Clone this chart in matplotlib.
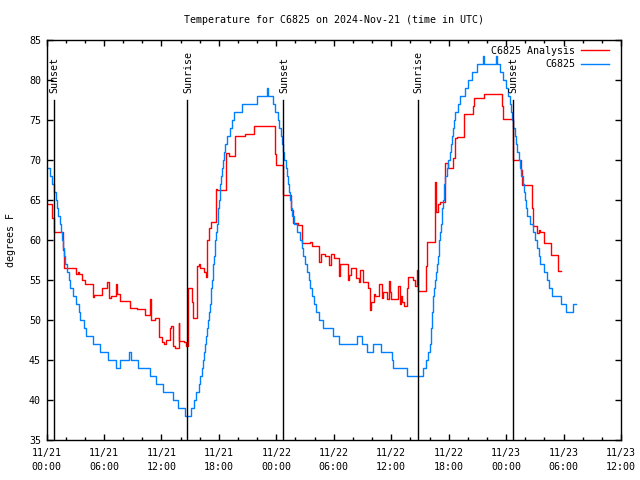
import matplotlib
matplotlib.use("Agg")
import matplotlib.pyplot as plt
from matplotlib.ticker import MultipleLocator

# hours since 2024-11-21 00:00 UTC, observed temps (step changes)
obs_hours = [0.0, 0.35, 0.6, 0.8, 0.95, 1.1, 1.25, 1.4, 1.53, 1.65, 1.74,
             1.85, 1.95, 2.09, 2.3, 2.5, 2.79, 3.13, 3.35, 3.55, 3.89,
             4.1, 4.87, 5.56, 6.44, 7.3, 7.65, 8.59, 8.87, 9.53, 10.85, 11.4, 12.18, 13.22, 13.7, 14.5,
             15.08, 15.44, 15.65, 15.9, 16.07, 16.25, 16.35, 16.45, 16.55, 16.65,
             16.75, 16.85, 16.94, 17.05, 17.15, 17.22, 17.29, 17.35, 17.42, 17.49,
             17.56, 17.64, 17.72, 17.8, 17.88, 17.96, 18.03, 18.1, 18.16, 18.23,
             18.3, 18.44, 18.56, 18.68, 18.9, 19.13, 19.38, 19.62,
             20.42, 22.0, 23.03, 23.17,
             23.66, 23.9, 24.14, 24.3, 24.45, 24.6, 24.72, 24.84, 24.98, 25.12,
             25.25, 25.37, 25.46, 25.55, 25.64, 25.9, 26.16, 26.5, 26.65, 26.79,
             27.0, 27.2, 27.38, 27.55, 27.72, 27.9, 28.17, 28.41, 28.83, 29.88,
             30.5, 32.45, 32.97, 33.5, 34.12, 34.93, 36.1, 36.2, 37.67, 39.34, 39.65, 39.86, 40.07,
             40.14, 40.2, 40.25, 40.3, 40.36, 40.41, 40.5, 40.6, 40.7, 40.78,
             40.86, 40.94, 41.0, 41.11, 41.2, 41.29, 41.35, 41.42, 41.49, 41.56,
             41.63, 41.8, 41.98, 42.1, 42.23, 42.33, 42.44, 42.55, 42.68, 42.95,
             43.2, 43.72, 44.07, 44.42, 44.94, 45.63,
             45.7, 46.92, 47.0,
             47.37, 47.72, 48.0, 48.24, 48.36, 48.49, 48.62, 48.76, 48.9, 49.06,
             49.18, 49.32, 49.46, 49.6, 49.74, 49.86, 49.98, 50.1, 50.22, 50.5,
             50.78, 51.02, 51.2, 51.4, 51.55, 51.97, 52.25, 52.52, 52.8, 53.71,
             54.26, 55.03, 55.27]
obs_temps = [69, 68, 67, 66, 65, 64, 63, 62, 61, 60, 59,
             58, 57, 56, 55, 54, 53, 52, 51, 50, 49,
             48, 47, 46, 45, 44, 45, 46, 45, 44, 43, 42, 41, 40, 39, 38,
             39, 40, 41, 42, 43, 44, 45, 46, 47, 48,
             49, 50, 51, 52, 53, 54, 55, 56, 57, 58,
             59, 60, 61, 62, 63, 64, 65, 66, 67, 68,
             69, 70, 71, 72, 73, 74, 75, 76,
             77, 78, 79, 78,
             77, 76, 75, 74, 73, 72, 71, 70, 69, 68,
             67, 66, 65, 64, 63, 62, 61, 60, 59, 58,
             57, 56, 55, 54, 53, 52, 51, 50, 49, 48,
             47, 48, 47, 46, 47, 46, 45, 44, 43, 44, 45, 46, 47,
             48, 49, 50, 51, 52, 53, 54, 55, 56, 57,
             58, 59, 60, 61, 62, 63, 64, 65, 66, 67,
             68, 69, 70, 71, 72, 73, 74, 75, 76, 77,
             78, 79, 80, 81, 82, 83,
             82, 83, 82,
             81, 80, 79, 78, 77, 76, 75, 74, 73, 72,
             71, 70, 69, 68, 67, 66, 65, 64, 63, 62,
             61, 60, 59, 58, 57, 56, 55, 54, 53, 52,
             51, 52, 52]

# analysis series
ana_hours = [0.0, 0.6, 0.75, 1.74, 1.8, 3.03, 3.29, 3.44, 3.72, 4.07,
             4.87, 4.96, 5.81, 6.3, 6.55, 6.75, 7.3, 7.41, 7.72, 8.77,
             9.46, 10.33, 10.85, 10.96, 11.37, 11.79, 12.07, 12.3, 12.5, 12.87,
             13.04, 13.22, 13.46, 13.8, 13.88, 14.4, 14.6, 14.74, 15.23, 15.3,
             15.72, 15.91, 16.07, 16.49, 16.7, 16.77, 16.94, 17.18, 17.74, 17.84,
             18.78, 19.1, 19.72, 20.76, 21.7, 23.82, 24.0, 24.7, 25.5, 25.74,
             26.3, 26.68, 27.47, 27.72, 28.42, 28.7, 29.11, 29.46, 29.71, 29.98,
             30.6, 30.68, 31.44, 31.6, 31.8, 32.3, 32.59, 32.7, 33.05, 33.57,
             33.74, 33.88, 34.16, 34.34, 34.68, 35.03, 35.14, 35.55, 35.72, 35.84,
             35.97, 36.7, 36.94, 37.04, 37.15, 37.29, 37.64, 37.8, 38.3, 38.5,
             38.7, 38.77, 39.65, 39.72, 40.62, 40.7, 40.9, 41.11, 41.63, 41.9,
             42.47, 42.68, 42.86, 43.65, 44.53, 44.67, 45.7, 47.55, 47.72, 48.7,
             49.51, 49.67, 50.7, 50.78, 51.23, 51.39, 51.55, 51.99, 52.7, 53.4,
             53.46, 53.71]
ana_temps = [64.5, 62.7, 61.0, 58.7, 56.5, 55.8, 56.0, 55.8, 55.0, 54.5,
             52.9, 53.1, 54.0, 54.8, 52.7, 53.0, 54.5, 53.2, 52.4, 51.5,
             51.4, 50.6, 52.6, 50.0, 50.2, 47.9, 47.3, 47.0, 47.5, 49.0,
             49.3, 46.8, 46.5, 49.6, 47.4, 47.2, 46.8, 54.0, 52.3, 50.3,
             56.7, 57.0, 56.5, 56.0, 55.4, 60.0, 61.5, 62.3, 66.4, 66.25,
             70.9, 70.5, 73.0, 73.2, 74.25, 70.8, 69.4, 65.6, 63.75, 62.1,
             61.9, 59.6, 59.8, 59.25, 57.3, 58.3, 58.0, 56.9, 58.3, 57.8,
             55.5, 56.95, 55.0, 55.6, 56.5, 55.3, 54.7, 56.2, 54.7, 54.0,
             51.25, 52.3, 53.2, 53.0, 54.5, 52.8, 53.5, 52.6, 54.9, 53.5,
             52.6, 54.2, 52.0, 53.0, 52.3, 51.75, 54.0, 55.4, 55.0, 54.3,
             56.25, 53.6, 56.7, 59.7, 67.3, 63.5, 64.5, 64.7, 69.6, 69.0,
             70.2, 72.7, 72.9, 75.7, 76.7, 77.8, 78.3, 76.7, 75.1, 70.0,
             68.7, 66.9, 64.0, 61.7, 60.9, 61.2, 61.0, 59.6, 58.1, 57.1,
             56.1, 56.1]

sun_hours = [0.77, 14.72, 24.75, 38.76, 48.70]
sun_labels = ["Sunset", "Sunrise", "Sunset", "Sunrise", "Sunset"]

tick_hours = list(range(0, 61, 6))
tick_labels = ["11/21\n00:00", "11/21\n06:00", "11/21\n12:00", "11/21\n18:00",
               "11/22\n00:00", "11/22\n06:00", "11/22\n12:00", "11/22\n18:00",
               "11/23\n00:00", "11/23\n06:00", "11/23\n12:00"]

plt.rcParams['font.family'] = ['DejaVu Sans Mono']
plt.rcParams['font.size'] = 7.2

fig = plt.figure(figsize=(6.4, 4.8), dpi=100)
ax = fig.add_axes([46.5 / 640, 40 / 480, 574.5 / 640, 400 / 480])

ax.plot(ana_hours, ana_temps, drawstyle='steps-post', color='#ff0000', lw=1.0,
        label='C6825 Analysis')
ax.plot(obs_hours, obs_temps, drawstyle='steps-post', color='#0080ff', lw=1.0,
        label='C6825')

for h, lab in zip(sun_hours, sun_labels):
    ax.plot([h, h], [0, 0.85], color='black', lw=1.0,
            transform=ax.get_xaxis_transform())
    ax.text(h + 0.08, 0.868, lab, rotation=90, ha='center', va='bottom',
            transform=ax.get_xaxis_transform())

ax.set_xlim(0, 60)
ax.set_ylim(35, 85)
ax.set_xticks(tick_hours)
ax.set_xticklabels(tick_labels, linespacing=1.6)
ax.xaxis.set_minor_locator(MultipleLocator(2))
ax.set_yticks(range(35, 86, 5))
ax.tick_params(which='both', direction='in', top=True, right=True, width=1.0)
ax.tick_params(which='major', length=4.5, pad=4)
ax.tick_params(axis='x', which='major', pad=5.5)
ax.tick_params(which='minor', length=2.5)
for s in ax.spines.values():
    s.set_linewidth(1.0)

ax.set_ylabel('degrees F', fontsize=7.2, labelpad=9)
ax.set_title('Temperature for C6825 on 2024-Nov-21 (time in UTC)', fontsize=7.2, pad=12)

ax.legend(loc='upper right', bbox_to_anchor=(0.979, 0.985), frameon=False,
          markerfirst=False, handlelength=2.8, handletextpad=0.6,
          labelspacing=0.35, borderpad=0.0, borderaxespad=0.0)

fig.savefig('out.png', dpi=100)
